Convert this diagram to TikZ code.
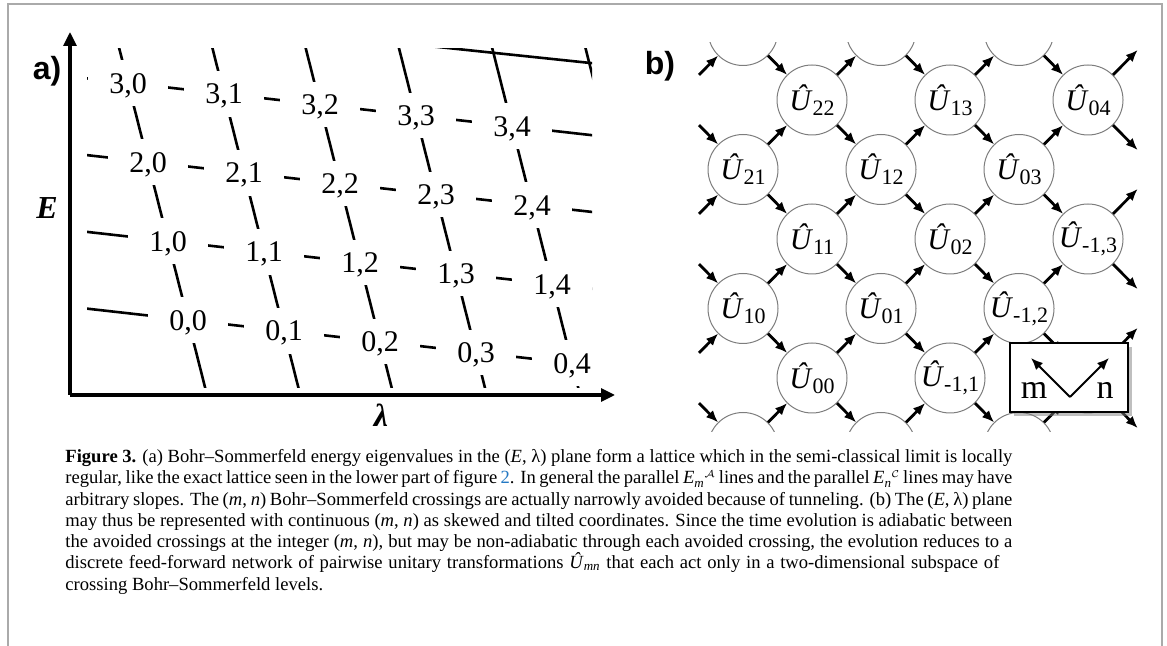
\documentclass[tikz,border=0pt]{standalone}
\usepackage{fontspec}
\setmainfont{Liberation Serif}
\newfontfamily\panelfont{Liberation Sans}
\usetikzlibrary{arrows.meta, shadows}
\definecolor{FrameGray}{RGB}{170,170,170}
\definecolor{RingGray}{RGB}{125,125,125}
\definecolor{LinkBlue}{RGB}{35,120,195}
\newlength{\capw}
\setlength{\capw}{473.5pt}
\newcommand{\ulab}[1]{\textit{Û}\raisebox{-2.5pt}{\fontsize{11}{11}\selectfont#1}}
\newcommand{\elev}[2]{\textit{E}\raisebox{-1.8pt}{\fontsize{6.5}{6.5}\selectfont\textit{#2}}\kern0.2pt\raisebox{3pt}{$\scriptscriptstyle\mathcal{#1}$}}

\begin{document}
\begin{tikzpicture}[x=0.5pt, y=-0.5pt,
  frame/.style={draw=FrameGray, line width=1pt},
  panel/.style={font=\panelfont\bfseries\fontsize{16}{16}\selectfont, inner sep=0pt},
  axis/.style={line width=1.6pt, -{Triangle[length=7pt,width=6.5pt]}},
  axlabel/.style={font=\fontsize{16}{16}\selectfont\bfseries\itshape, inner sep=0pt},
  level/.style={line width=1.3pt},
  qnum/.style={fill=white, inner sep=0pt, minimum width=39.8pt, minimum height=22.75pt,
               text height=10.1pt, text depth=0pt, font=\fontsize{15}{15}\selectfont},
  spot/.style={circle, minimum size=35pt, inner sep=0pt},
  unit/.style={spot, draw=RingGray, line width=0.5pt, fill=white, font=\fontsize{15}{15}\selectfont},
  flow/.style={line width=1.4pt, -{Latex[length=6pt,width=5pt]}},
  legend/.style={draw, line width=1pt, fill=white, minimum width=59pt, minimum height=34.5pt,
                 drop shadow={shadow xshift=2pt, shadow yshift=-2pt, opacity=0.5}},
  pointer/.style={line width=1pt, -{Latex[length=6pt,width=5pt]}},
  caption/.style={align=left, inner sep=0pt, font=\fontsize{9.3}{10.65}\selectfont},
]
\useasboundingbox (0,0) rectangle (1167,646);
\draw[frame] (8,646) -- (8,4) -- (1162,4) -- (1162,646);

% (a) Bohr-Sommerfeld lattice
\node[panel] (alab) at (47,71) {a)};
\coordinate (origin) at (70,395);
\coordinate (etop) at (70,32);
\coordinate (lend) at (615,395);
\draw[axis] (origin) -- (etop);
\draw[axis] (origin) -- (lend);
\node[axlabel] (elab) at (47,208) {E};
\node[axlabel] (llab) at (381,415) {λ};

\foreach \m in {-1,...,5}
  \foreach \n in {-2,...,5}
    \coordinate (a\m_\n) at ({188-20*\m+96*\n},{320-79*\m+10.8*\n});
\begin{scope}
  \clip (87,49) rectangle (592,388);
  \foreach \m in {0,...,3} \draw[level] (a\m_-2) -- (a\m_5);
  \foreach \n in {0,...,5} \draw[level] (a-1_\n) -- (a5_\n);
  \draw[level] (400,43) -- (600,64);
\end{scope}
\foreach \m in {0,...,3}
  \foreach \n in {0,...,4}
    \node[qnum] (q\m_\n) at (a\m_\n) {\m,\n};

% (b) feed-forward network of crossings
\node[panel] (blab) at (660,66) {b)};
\foreach \m in {-3,...,4}
  \foreach \n in {-1,...,5}
    \node[spot] (g\m_\n) at ({812+69*(\n-\m)},{378-69.5*(\n+\m)}) {};
\foreach \m/\n in {0/5,-1/4,-2/3,-3/2}
  \node[spot, minimum size=27pt] (g\m_\n) at ({812+69*(\n-\m)},{378-69.5*(\n+\m)}) {};
\begin{scope}
  \clip (697,43) rectangle (1140,432);
  \foreach \m/\n in {3/2,2/3,1/4,0/-1,-1/0,-2/1,-2/2}
    \node[unit] (r\m_\n) at (g\m_\n) {};
  \foreach \m/\n/\lab in {0/0/00,1/0/10,0/1/01,1/1/11,-1/1/{-1,1},2/1/21,1/2/12,
                          0/2/02,-1/2/{-1,2},2/2/22,1/3/13,0/3/03,0/4/04,-1/3/{-1,3}}
    \node[unit] (u\m_\n) at (g\m_\n) {\ulab{\lab}};
  \foreach \m in {-3,...,4}
    \foreach \n in {-1,...,4} {
      \pgfmathtruncatemacro\nn{\n+1}
      \draw[flow] (g\m_\n) -- (g\m_\nn);
    }
  \foreach \m in {-2,...,4}
    \foreach \n in {-1,...,5} {
      \pgfmathtruncatemacro\mm{\m-1}
      \draw[flow] (g\m_\n) -- (g\mm_\n);
    }
\end{scope}
\node[legend] (legend) at (1069,377.5) {};
\coordinate (vtx) at (1070,397);
\coordinate (mtip) at (1031,358);
\coordinate (ntip) at (1109,358);
\draw[pointer] (vtx) -- (mtip);
\draw[pointer] (vtx) -- (ntip);
\node[font=\fontsize{17}{17}\selectfont, inner sep=0pt] (mlab) at (1034,390) {m};
\node[font=\fontsize{17}{17}\selectfont, inner sep=0pt] (nlab) at (1105,390) {n};

% caption
\node[caption, anchor=north west] (cap) at (65,449) {%
\makebox[\capw][s]{\textbf{Figure 3.} (a) Bohr–Sommerfeld energy eigenvalues in the (\textit{E}, λ) plane form a lattice which in the semi-classical limit is locally}\\
\makebox[\capw][s]{regular, like the exact lattice seen in the lower part of figure \textcolor{LinkBlue}{2}. In general the parallel \elev{A}{m} lines and the parallel \elev{C}{n} lines may have}\\
\makebox[\capw][s]{arbitrary slopes. The (\textit{m}, \textit{n}) Bohr–Sommerfeld crossings are actually narrowly avoided because of tunneling. (b) The (\textit{E}, λ) plane}\\
\makebox[\capw][s]{may thus be represented with continuous (\textit{m}, \textit{n}) as skewed and tilted coordinates. Since the time evolution is adiabatic between}\\
\makebox[\capw][s]{the avoided crossings at the integer (\textit{m}, \textit{n}), but may be non-adiabatic through each avoided crossing, the evolution reduces to a}\\
\makebox[467pt][s]{discrete feed-forward network of pairwise unitary transformations \textit{Û}\textsubscript{\textit{mn}} that each act only in a two-dimensional subspace of}\\
crossing Bohr–Sommerfeld levels.};
\end{tikzpicture}
\end{document}
